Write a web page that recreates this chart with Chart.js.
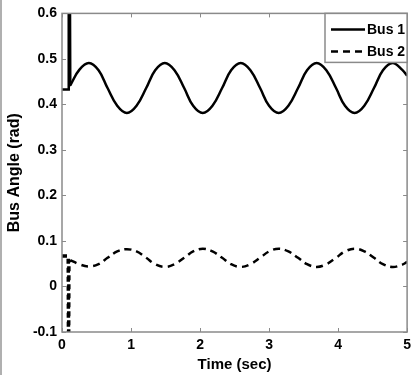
<!DOCTYPE html>
<html>
<head>
<meta charset="utf-8">
<script src="https://cdn.jsdelivr.net/npm/chart.js@4"></script>
<style>
  html, body { margin: 0; padding: 0; background: #fff; }
  #wrap { width: 416px; height: 375px; position: relative; }
</style>
</head>
<body>
<div id="wrap"><canvas id="myChart" width="416" height="375"></canvas></div>
<script>
// time samples (sec) for the steady swing after the fault
const time = [0.12, 0.25, 0.39, 0.53, 0.66, 0.80, 0.94, 1.08, 1.22, 1.35, 1.49, 1.63, 1.77, 1.90,
              2.04, 2.18, 2.32, 2.45, 2.59, 2.73, 2.87, 3.00, 3.14, 3.28, 3.42, 3.55, 3.69, 3.83,
              3.97, 4.10, 4.24, 4.38, 4.52, 4.65, 4.79, 4.93, 5.00]
const bus1 = [0.442, 0.476, 0.491, 0.475, 0.436, 0.397, 0.381, 0.397, 0.436, 0.475, 0.491, 0.475, 0.436, 0.397,
              0.381, 0.397, 0.436, 0.475, 0.491, 0.475, 0.436, 0.397, 0.381, 0.397, 0.436, 0.475, 0.491, 0.475,
              0.436, 0.397, 0.381, 0.397, 0.436, 0.475, 0.491, 0.476, 0.463]
const bus2 = [0.058, 0.049, 0.044, 0.049, 0.063, 0.077, 0.082, 0.077, 0.063, 0.049, 0.043, 0.049, 0.063, 0.077,
              0.083, 0.077, 0.063, 0.049, 0.043, 0.049, 0.063, 0.077, 0.083, 0.077, 0.063, 0.049, 0.043, 0.049,
              0.063, 0.077, 0.083, 0.077, 0.063, 0.049, 0.043, 0.048, 0.054]

// pre-fault level and the switching spike
const spike1Time = [0, 0.09, 0.095, 0.10, 0.105, 0.11, 0.115, 0.12]
const spike1 = [0.433, 0.433, 0.75, 0.44, 0.75, 0.44, 0.75, 0.442]
const spike2Time = [0, 0.09, 0.095, 0.10, 0.12]
const spike2 = [0.067, 0.067, -0.2, 0.055, 0.058]

const labels = ['Bus 1', 'Bus 2']
const xTicks = [0, 1, 2, 3, 4, 5]
const yTicks = [-0.1, 0, 0.1, 0.2, 0.3, 0.4, 0.5, 0.6]

const fontFam = '"Liberation Sans", Arial, sans-serif'
const frameColor = '#8a8a8a'

function pts(xs, ys){
    return xs.map((x, i) => ({x: x, y: ys[i]}))
}

// box + inward ticks + legend inside the plot, matlab style
const framePlugin = {
    id: 'frame',
    afterDraw(chart){
        const ctx = chart.ctx
        const a = chart.chartArea
        const xs = chart.scales.x
        const ys = chart.scales.y
        ctx.save()
        ctx.fillStyle = '#b0b0b0'
        ctx.fillRect(0, 0, 2, chart.height)

        ctx.strokeStyle = frameColor
        ctx.lineWidth = 1.5
        ctx.strokeRect(a.left, a.top, a.right - a.left, a.bottom - a.top)
        ctx.lineWidth = 1
        ctx.beginPath()
        xTicks.forEach(v => {
            const px = Math.round(xs.getPixelForValue(v)) + 0.5
            ctx.moveTo(px, a.bottom); ctx.lineTo(px, a.bottom - 4)
            ctx.moveTo(px, a.top); ctx.lineTo(px, a.top + 4)
        })
        yTicks.forEach(v => {
            const py = Math.round(ys.getPixelForValue(v)) + 0.5
            ctx.moveTo(a.left, py); ctx.lineTo(a.left + 4, py)
            ctx.moveTo(a.right, py); ctx.lineTo(a.right - 4, py)
        })
        ctx.stroke()

        // legend
        const bx = 325, by = a.top, bw = a.right - 325, bh = 49
        ctx.fillStyle = '#fff'
        ctx.fillRect(bx, by, bw, bh)
        ctx.strokeStyle = frameColor
        ctx.lineWidth = 1.5
        ctx.strokeRect(bx, by, bw, bh)
        ctx.font = 'bold 14px ' + fontFam
        ctx.textBaseline = 'middle'
        ctx.fillStyle = '#000'
        const rows = [by + 16, by + 38]
        rows.forEach((ry, i) => {
            const ds = chart.data.datasets[i]
            ctx.strokeStyle = '#000'
            ctx.lineWidth = 2.5
            ctx.setLineDash(ds.borderDash || [])
            ctx.beginPath()
            ctx.moveTo(331, ry); ctx.lineTo(365, ry)
            ctx.stroke()
            ctx.setLineDash([])
            ctx.fillText(labels[i], 367, ry + 1)
        })
        ctx.restore()
    }
}

const ctx = document.getElementById('myChart').getContext('2d')
const myChart = new Chart(ctx, {
    type: 'line',
    data: {
        datasets: [
            {label: labels[0], data: pts(time, bus1), borderColor: '#000', borderWidth: 2.5,
             pointRadius: 0, tension: 0.4, clip: 0},
            {label: labels[1], data: pts(time, bus2), borderColor: '#000', borderWidth: 2.5,
             borderDash: [7, 5], pointRadius: 0, tension: 0.4, clip: 0},
            {label: labels[0], data: pts(spike1Time, spike1), borderColor: '#000', borderWidth: 2.5,
             pointRadius: 0, tension: 0, clip: 0},
            {label: labels[1], data: pts(spike2Time, spike2), borderColor: '#000', borderWidth: 3.5,
             borderDash: [5, 4], pointRadius: 0, tension: 0, clip: 0}
        ]
    },
    options: {
        responsive: false,
        animation: false,
        events: [],
        layout: { padding: { top: 13, right: 4, left: 0, bottom: 0 } },
        plugins: {
            legend: { display: false },
            tooltip: { enabled: false }
        },
        scales: {
            x: {
                type: 'linear',
                min: 0,
                max: 5,
                afterFit: s => { s.height = 43 },
                afterBuildTicks: s => { s.ticks = xTicks.map(v => ({value: v})) },
                ticks: {
                    color: '#000',
                    padding: 5,
                    maxRotation: 0,
                    font: { family: fontFam, size: 14, weight: 'bold' },
                    callback: v => String(v)
                },
                grid: { display: false, drawTicks: false },
                border: { display: false },
                title: {
                    display: true,
                    text: 'Time (sec)',
                    color: '#000',
                    font: { family: fontFam, size: 15, weight: 'bold' },
                    padding: { top: 0, bottom: 1 }
                }
            },
            y: {
                min: -0.1,
                max: 0.6,
                afterFit: s => { s.width = 62 },
                afterBuildTicks: s => { s.ticks = yTicks.map(v => ({value: v})) },
                ticks: {
                    color: '#000',
                    padding: 5,
                    font: { family: fontFam, size: 14, weight: 'bold' },
                    callback: v => String(Math.round(v * 10) / 10)
                },
                grid: { display: false, drawTicks: false },
                border: { display: false },
                title: {
                    display: true,
                    text: 'Bus Angle (rad)',
                    color: '#000',
                    font: { family: fontFam, size: 16, weight: 'bold' },
                    padding: { top: 5, bottom: 0 }
                }
            }
        }
    },
    plugins: [framePlugin]
})
</script>
</body>
</html>
